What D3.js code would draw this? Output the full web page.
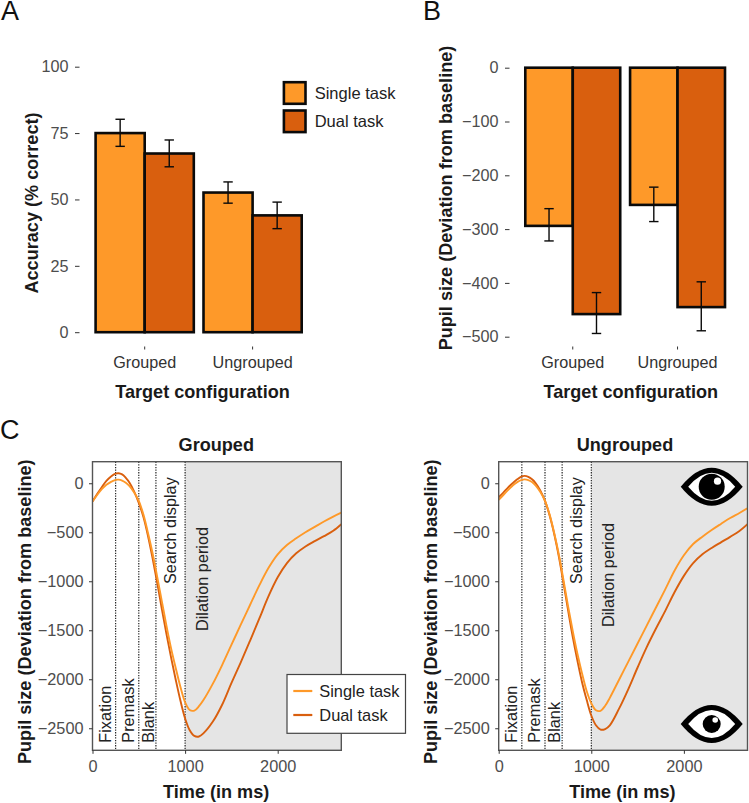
<!DOCTYPE html>
<html><head><meta charset="utf-8">
<style>html,body{margin:0;padding:0;background:#fff}svg{display:block}text{font-family:"Liberation Sans",Arial,sans-serif}</style>
<script src="https://cdn.jsdelivr.net/npm/d3@7"></script></head><body>
<svg id="c" width="749" height="803"></svg>
<script>
const categories=["Grouped","Ungrouped"];
const tasks=["Single task","Dual task"];
const colors=["#FE9929","#D95F0E"];
const accuracy=[[75,67.3],[52.6,44]];
const accuracyLow=[[70,62.3],[48.6,39]];
const accuracyHigh=[[80.2,72.4],[56.6,49]];
const pupil=[[-294,-458],[-255,-445]];
const pupilLow=[[-322,-494],[-286,-489]];
const pupilHigh=[[-262,-418],[-222,-398]];
const phases=["Fixation","Premask","Blank","Search display","Dilation period"];
const phaseEnds=[250,500,685,1000];
const timeG=[0,50,100,150,200,250,280,320,360,400,450,500,550,600,650,700,750,800,850,900,950,1000,1050,1100,1150,1200,1300,1400,1500,1600,1700,1800,1900,2000,2100,2200,2300,2400,2500,2600,2687];
const groupedSingle=[-187,-120,-60,-15,15,35,37,28,5,-30,-95,-180,-320,-510,-720,-960,-1210,-1460,-1690,-1890,-2080,-2235,-2314,-2320,-2275,-2210,-2045,-1855,-1650,-1445,-1245,-1045,-865,-725,-630,-562,-500,-445,-390,-340,-300];
const groupedDual=[-187,-110,-40,25,70,98,102,90,55,5,-85,-200,-345,-540,-770,-1020,-1290,-1545,-1785,-2010,-2220,-2400,-2520,-2578,-2584,-2550,-2432,-2260,-2040,-1830,-1610,-1385,-1155,-960,-815,-715,-645,-590,-540,-485,-418];
const ungroupedSingle=[-170,-120,-70,-25,12,35,40,33,12,-25,-90,-180,-320,-510,-730,-990,-1260,-1510,-1740,-1940,-2120,-2245,-2316,-2322,-2270,-2190,-2005,-1820,-1635,-1450,-1265,-1080,-890,-735,-620,-545,-477,-415,-355,-303,-255];
const ungroupedDual=[-143,-95,-45,0,40,70,75,65,40,0,-75,-180,-330,-520,-750,-1020,-1300,-1570,-1810,-2030,-2210,-2370,-2470,-2514,-2508,-2470,-2300,-2100,-1880,-1670,-1480,-1300,-1110,-945,-815,-725,-660,-603,-547,-487,-418];
const accTicks=[0,25,50,75,100];
const pupTicks=[0,-100,-200,-300,-400,-500];
const lineYTicks=[0,-500,-1000,-1500,-2000,-2500];
const lineXTicks=[0,1000,2000];

const svg=d3.select("#c");
const minus=v=>String(v).replace("-","\u2212");
const TICK="#4D4D4D",DARK="#1a1a1a",BOLD=18.1;

function label(t,x,y,size,opts={}){
  const s=svg.append("text").text(t).attr("font-size",size).attr("fill",opts.fill||DARK)
    .attr("font-weight",opts.bold?"bold":"normal").attr("text-anchor",opts.anchor||"middle");
  if(opts.rot) s.attr("transform",`translate(${x},${y}) rotate(-90)`); else s.attr("x",x).attr("y",y);
  return s;
}
function styleAxis(g,size){
  g.select(".domain").remove();
  g.selectAll("line").attr("stroke","#333").attr("stroke-width",1);
  g.selectAll("text").attr("font-size",size).attr("fill",TICK).attr("font-family",'"Liberation Sans",Arial,sans-serif');
}
function barPanel(o){
  const x0=d3.scaleBand().domain(categories).range(o.xr).paddingInner(o.pad).paddingOuter(0);
  const x1=d3.scaleBand().domain(tasks).range([0,x0.bandwidth()]);
  const y=d3.scaleLinear().domain(o.yd).range(o.yr);
  const base=y(0);
  categories.forEach((c,i)=>tasks.forEach((t,j)=>{
    const v=y(o.vals[i][j]);
    svg.append("rect").attr("x",x0(c)+x1(t)).attr("width",x1.bandwidth())
      .attr("y",Math.min(v,base)).attr("height",Math.abs(v-base))
      .attr("fill",colors[j]).attr("stroke","#0a0a0a").attr("stroke-width",2.6);
  }));
  categories.forEach((c,i)=>tasks.forEach((t,j)=>{
    const cx=x0(c)+x1(t)+x1.bandwidth()/2, lo=y(o.low[i][j]), hi=y(o.high[i][j]);
    const g=svg.append("g").attr("stroke","#0a0a0a").attr("stroke-width",1.4);
    g.append("line").attr("x1",cx).attr("x2",cx).attr("y1",lo).attr("y2",hi);
    [lo,hi].forEach(p=>g.append("line").attr("x1",cx-4.7).attr("x2",cx+4.7).attr("y1",p).attr("y2",p));
  }));
  const ay=svg.append("g").attr("transform",`translate(${o.axX},0)`)
    .call(d3.axisLeft(y).tickValues(o.ticks).tickFormat(minus).tickSize(4.5).tickPadding(6.5));
  styleAxis(ay,16.2);
  const ax=svg.append("g").attr("transform",`translate(0,${o.axY})`)
    .call(d3.axisBottom(x0).tickSize(3).tickPadding(7));
  styleAxis(ax,16.2);
  ax.selectAll("text").attr("fill","#333");
}
barPanel({xr:[95.6,301.7],pad:0.09,yd:[0,100],yr:[332.2,66.7],vals:accuracy,low:accuracyLow,high:accuracyHigh,ticks:accTicks,axX:79.5,axY:346.5});
barPanel({xr:[525.3,725],pad:0.094,yd:[0,-500],yr:[67.7,336.7],vals:pupil,low:pupilLow,high:pupilHigh,ticks:pupTicks,axX:509.5,axY:346.5});

label("A",1,20,27,{anchor:"start",fill:"#111"});
label("B",423,20,27,{anchor:"start",fill:"#111"});
label("C",0,439,27,{anchor:"start",fill:"#111"});
label("Accuracy (% correct)",37.5,203,BOLD,{bold:true,rot:true});
label("Target configuration",202.5,398,BOLD,{bold:true});
label("Pupil size (Deviation from baseline)",452,198,BOLD,{bold:true,rot:true});
label("Target configuration",630.8,398,BOLD,{bold:true});

tasks.forEach((t,j)=>{
  svg.append("rect").attr("x",283.9).attr("y",82.2+28.3*j).attr("width",21.6).attr("height",21.6)
    .attr("fill",colors[j]).attr("stroke","#0a0a0a").attr("stroke-width",2.6);
  label(t,314.7,99+28*j,16.5,{anchor:"start",fill:"#222"});
});

function linePanel(o){
  const x=d3.scaleLinear().domain([0,2687]).range([o.x0,o.x0+248.8]);
  const y=d3.scaleLinear().domain([220,-2725]).range([461.7,750.3]);
  const right=x(2687);
  const id="clip"+o.name;
  svg.append("clipPath").attr("id",id).append("rect").attr("x",x(0)).attr("y",y(220)).attr("width",right-x(0)).attr("height",y(-2725)-y(220));
  svg.append("rect").attr("x",x(1000)).attr("y",y(220)).attr("width",right-x(1000)).attr("height",y(-2725)-y(220)).attr("fill","#E5E5E5");
  phaseEnds.forEach(p=>svg.append("line").attr("x1",x(p)).attr("x2",x(p)).attr("y1",y(220)).attr("y2",y(-2725))
    .attr("stroke","#111").attr("stroke-width",1.1).attr("stroke-dasharray","1.3,1.3"));
  const line=d3.line().x((d,i)=>x(timeG[i])).y(d=>y(d)).curve(d3.curveCatmullRom.alpha(0.5));
  [[o.dual,colors[1]],[o.single,colors[0]]].forEach(([s,c])=>{
    svg.append("path").attr("d",line(s)).attr("fill","none").attr("stroke",c).attr("stroke-width",1.9)
      .attr("clip-path",`url(#${id})`);
  });
  svg.append("rect").attr("x",x(0)).attr("y",y(220)).attr("width",right-x(0)).attr("height",y(-2725)-y(220))
    .attr("fill","none").attr("stroke","#555").attr("stroke-width",1.4);
  const ay=svg.append("g").attr("transform",`translate(${x(0)},0)`)
    .call(d3.axisLeft(y).tickValues(lineYTicks).tickFormat(minus).tickSize(3.5).tickPadding(5.5));
  styleAxis(ay,16.3);
  const ax=svg.append("g").attr("transform",`translate(0,${y(-2725)})`)
    .call(d3.axisBottom(x).tickValues(lineXTicks).tickFormat(d=>d).tickSize(3.5).tickPadding(7));
  styleAxis(ax,16.3);
  const off=x(0);
  const lab=(t,dx,yy)=>label(t,off+dx,yy,16.3,{anchor:"start",rot:true,fill:"#222"});
  lab(phases[0],18,742.7); lab(phases[1],41,742.7); lab(phases[2],61.5,742.7);
  lab(phases[3],83,584); lab(phases[4],115,o.name==="g"?631:627);
  label(o.title,o.x0+o.titleDx,450.7,BOLD,{bold:true});
  label("Time (in ms)",o.x0+123.7,797.5,BOLD,{bold:true});
  label("Pupil size (Deviation from baseline)",o.x0-62,611.7,BOLD,{bold:true,rot:true});
}
linePanel({name:"g",x0:92.5,title:"Grouped",titleDx:123.8,single:groupedSingle,dual:groupedDual});
linePanel({name:"u",x0:498.7,title:"Ungrouped",titleDx:126.3,single:ungroupedSingle,dual:ungroupedDual});

svg.append("rect").attr("x",287).attr("y",674.5).attr("width",118.5).attr("height",58.8).attr("fill","#fff").attr("stroke","#444").attr("stroke-width",1.2);
tasks.forEach((t,j)=>{
  svg.append("line").attr("x1",293.3).attr("x2",312.3).attr("y1",691+24*j).attr("y2",691+24*j).attr("stroke",colors[j]).attr("stroke-width",2.2);
  label(t,319.3,696.7+24*j,16.4,{anchor:"start",fill:"#222"});
});

function eye(cx,cy,r,hx,hy,hr){
  const g=svg.append("g").attr("transform",`translate(${cx},${cy})`);
  g.append("path").attr("d","M-31,0Q0,-38 31,0Q0,38 -31,0Z").attr("fill","#000");
  g.append("path").attr("d","M-23.5,0Q0,-28 23.5,0Q0,28 -23.5,0Z").attr("fill","#fff");
  g.append("circle").attr("r",r).attr("fill","#000");
  g.append("circle").attr("cx",hx).attr("cy",hy).attr("r",hr).attr("fill","#fff");
}
eye(711.7,486.7,13,5.8,-5.5,3.6);
eye(711.7,724,9,3.5,-4,2.8);
</script></body></html>
